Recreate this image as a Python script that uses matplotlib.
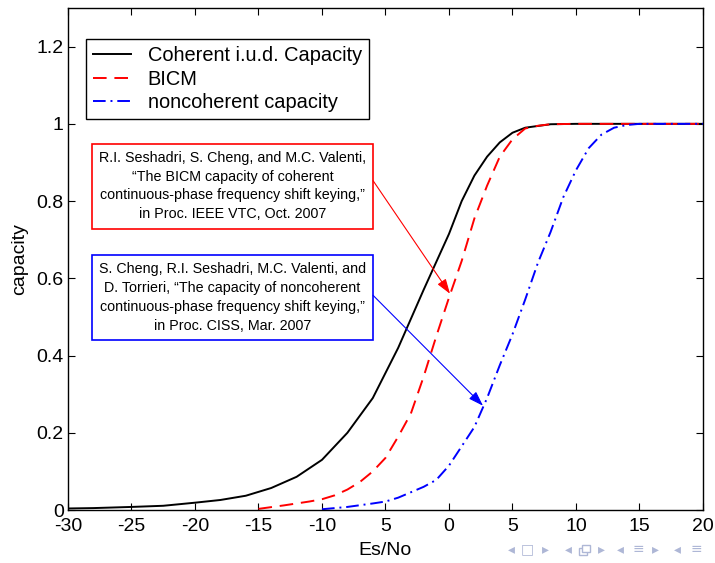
import matplotlib
matplotlib.use("Agg")
import matplotlib.pyplot as plt
from matplotlib.patches import Rectangle

# coherent i.u.d. capacity
es_coh = [-30, -28, -25, -22.5, -20, -18, -16, -14, -12, -10, -8, -6, -4, -2,
          0, 1, 2, 3, 4, 5, 6, 8, 10, 15, 20]
cap_coh = [0.004, 0.005, 0.008, 0.011, 0.019, 0.026, 0.037, 0.057, 0.086, 0.13,
           0.2, 0.29, 0.42, 0.57, 0.715, 0.8, 0.866, 0.915, 0.952, 0.977, 0.99,
           0.999, 1.0, 1.0, 1.0]

# BICM
es_bicm = [-15, -13, -11, -10, -9, -8, -7, -6, -5, -4, -3, -2, -1, 0, 1, 2, 3, 4,
           5, 6, 7, 8, 10, 15, 20]
cap_bicm = [0.003, 0.012, 0.022, 0.028, 0.038, 0.053, 0.073, 0.1, 0.135, 0.19,
            0.25, 0.345, 0.45, 0.55, 0.645, 0.755, 0.84, 0.915, 0.96, 0.988,
            0.995, 0.999, 1.0, 1.0, 1.0]

# noncoherent capacity
es_nc = [-10, -8, -6, -5, -4, -3, -2, -1, 0, 1, 2, 3, 4, 5, 6, 7, 8, 9, 10, 11,
         12, 13, 14, 15, 20]
cap_nc = [0.002, 0.008, 0.017, 0.022, 0.032, 0.046, 0.06, 0.078, 0.115, 0.165,
          0.215, 0.29, 0.375, 0.455, 0.545, 0.64, 0.72, 0.81, 0.88, 0.937,
          0.972, 0.99, 0.997, 1.0, 1.0]

xticks = [-30, -25, -20, -15, -10, -5, 0, 5, 10, 15, 20]
xtick_labels = ['-30', '-25', '-20', '-15', '-10', '5', '0', '5', '10', '15', '20']
yticks = [0, 0.2, 0.4, 0.6, 0.8, 1, 1.2]
ytick_labels = ['0', '0.2', '0.4', '0.6', '0.8', '1', '1.2']

ref_bicm = ('R.I. Seshadri, S. Cheng, and M.C. Valenti,\n'
            '\u201cThe BICM capacity of coherent\n'
            'continuous-phase frequency shift keying,\u201d\n'
            'in Proc. IEEE VTC, Oct. 2007')
ref_nc = ('S. Cheng, R.I. Seshadri, M.C. Valenti, and\n'
          'D. Torrieri, \u201cThe capacity of noncoherent\n'
          'continuous-phase frequency shift keying,\u201d\n'
          'in Proc. CISS, Mar. 2007')

plt.rcParams['font.family'] = ['Liberation Sans', 'DejaVu Sans']

fig = plt.figure(figsize=(7.15, 5.63), dpi=100)
ax = fig.add_axes([0.0951, 0.0941, 0.8881, 0.8917])

ax.plot(es_coh, cap_coh, color='black', lw=1.4, label='Coherent i.u.d. Capacity')
ax.plot(es_bicm, cap_bicm, color='red', lw=1.4, dashes=(7, 4), label='BICM')
ax.plot(es_nc, cap_nc, color='blue', lw=1.4, dashes=(6.5, 2.5, 1, 2.5),
        label='noncoherent capacity')

ax.set_xlim(-30, 20)
ax.set_ylim(0, 1.3)
ax.set_xticks(xticks)
ax.set_xticklabels(xtick_labels)
ax.set_yticks(yticks)
ax.set_yticklabels(ytick_labels)
ax.tick_params(direction='in', top=True, right=True, labelsize=14, length=5,
               width=0.8)
ax.tick_params(axis='x', pad=6)
ax.tick_params(axis='y', pad=3)
for s in ax.spines.values():
    s.set_linewidth(1.0)
ax.set_xlabel('Es/No', fontsize=14, labelpad=5)
ax.set_ylabel('capacity', fontsize=14, labelpad=6)

leg = ax.legend(loc='upper left', bbox_to_anchor=(0.028, 0.938), fontsize=14.4,
                fancybox=False, framealpha=1, edgecolor='black',
                handlelength=1.9, borderpad=0.35, labelspacing=0.22,
                handletextpad=0.85, borderaxespad=0)
leg.get_frame().set_linewidth(1.0)

# reference boxes with arrows
boxes = [(ref_bicm, 'red', -28.13, 0.729, 0.949, (-5.98, 0.853), (0.08, 0.56)),
         (ref_nc, 'blue', -28.13, 0.439, 0.661, (-5.98, 0.556), (2.68, 0.27))]
for txt, col, x0, y0, y1, p0, p1 in boxes:
    ax.add_patch(Rectangle((x0, y0), -5.98 - x0, y1 - y0, fill=True,
                           facecolor='white', edgecolor=col, lw=1.2, zorder=4))
    ax.text((x0 - 5.98) / 2, (y0 + y1) / 2, txt, ha='center', va='center',
            fontsize=10.3, linespacing=1.45, zorder=5)
    ax.annotate('', xy=p1, xytext=p0,
                arrowprops=dict(arrowstyle='-|>,head_length=0.9,head_width=0.3',
                                color=col, lw=0.8, shrinkA=0, shrinkB=0),
                zorder=5)

# beamer navigation symbols
nav_col = '#aeb7d6'
nav = [(511, '\u25c2'), (527, '\u25a1'), (545, '\u25b8'), (568, '\u25c2'),
       (601, '\u25b8'), (620, '\u25c2'), (638, '\u2261'), (655, '\u25b8'),
       (677, '\u25c2'), (696, '\u2261')]
for px, ch in nav:
    fig.text(px / 715, 0.024, ch, fontsize=10, color=nav_col,
             family=['DejaVu Sans'], ha='center', va='center')
# the stacked-frames glyph has no installed font, so draw it as two squares
for dx, dy in [(0, 0), (3, 3)]:
    fig.add_artist(Rectangle(((579 + dx) / 715, (8 + dy) / 563), 8 / 715, 7 / 563,
                             transform=fig.transFigure, facecolor='white',
                             edgecolor=nav_col, lw=1.0))

fig.savefig('out.png', dpi=100)
